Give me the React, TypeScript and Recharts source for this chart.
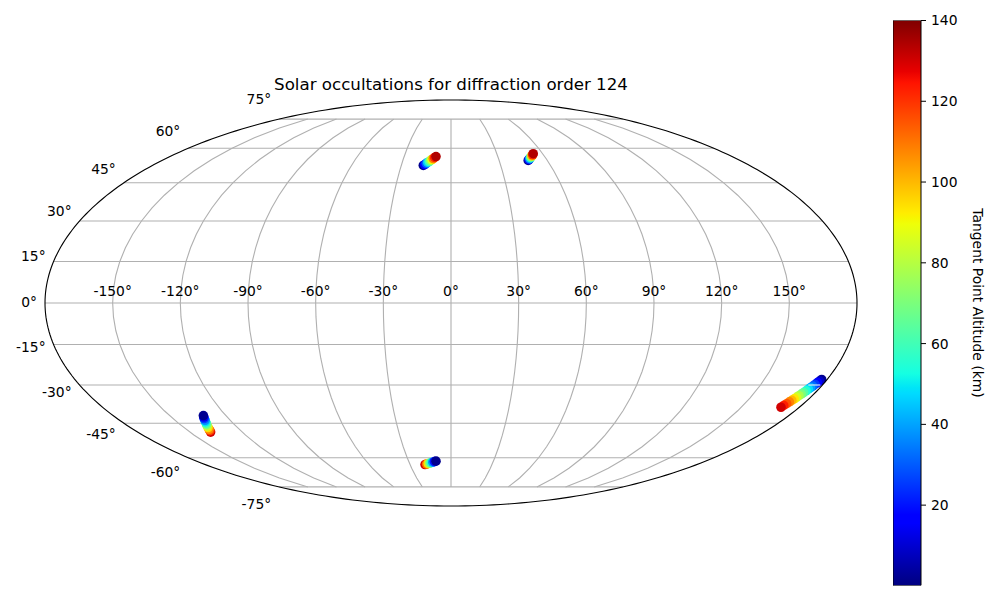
import React from 'react';
import { Bar, BarChart, Scatter, ScatterChart, XAxis, YAxis } from 'recharts';

const FONT = '"DejaVu Sans", sans-serif';

// grid ticks in degrees
const lonTicks = [-150, -120, -90, -60, -30, 0, 30, 60, 90, 120, 150];
const latTicks = [-75, -60, -45, -30, -15, 0, 15, 30, 45, 60, 75];
const meridianLats = [-75, -70, -65, -60, -55, -50, -45, -40, -35, -30, -25, -20, -15, -10, -5, 0, 5, 10, 15, 20, 25, 30, 35, 40, 45, 50, 55, 60, 65, 70, 75];

// occultation tracks
const trackALon = [-16.7, -15.9, -15.1, -14.3, -13.5, -12.7, -11.9, -11.2, -10.4, -9.6];
const trackALat = [52.3, 52.7, 53.2, 53.6, 54.0, 54.5, 54.9, 55.3, 55.8, 56.2];
const trackAAlt = [2, 16, 30, 45, 59, 73, 90, 108, 122, 134];

const trackBLon = [48.1, 48.9, 49.7, 50.5, 51.4, 52.2, 53.0, 53.8];
const trackBLat = [54.5, 54.9, 55.3, 55.7, 56.2, 56.6, 57.0, 57.5];
const trackBAlt = [2, 20, 39, 57, 78, 100, 120, 134];

const trackCLon = [177.4, 177.0, 176.6, 176.2, 175.8, 175.4, 175.0, 174.6, 174.2, 173.8, 173.4, 173.0, 172.6, 172.2, 171.8, 171.4, 170.9, 170.5];
const trackCLat = [-27.9, -28.5, -29.1, -29.8, -30.4, -31.0, -31.6, -32.2, -32.9, -33.5, -34.1, -34.7, -35.3, -35.9, -36.5, -37.2, -37.9, -38.6];
const trackCAlt = [2, 9, 17, 25, 32, 40, 48, 55, 63, 70, 78, 85, 93, 100, 108, 115, 123, 130];

const trackDLon = [-138.1, -137.5, -137.0, -136.4, -135.9, -135.3, -134.7, -134.2, -133.6, -133.1, -132.5, -131.9];
const trackDLat = [-48.7, -48.1, -47.5, -46.8, -46.2, -45.6, -45.0, -44.4, -43.8, -43.1, -42.5, -41.9];
const trackDAlt = [130, 118, 107, 95, 83, 71, 60, 49, 37, 26, 14, 2];

const trackELon = [-19.0, -17.8, -16.6, -15.4, -14.2, -13.0, -11.8, -10.6];
const trackELat = [-63.2, -63.0, -62.8, -62.5, -62.3, -62.1, -61.8, -61.6];
const trackEAlt = [130, 112, 94, 75, 57, 39, 20, 2];

// pale streak across the long track, along the -30 parallel
const streakLon = [173.2, 179];
const streakLat = -30;

const colorbarTicks = [20, 40, 60, 80, 100, 120, 140];

const R2 = Math.SQRT2;

// Mollweide projection
const project = (lon: number, lat: number) => {
  const phi = (lat * Math.PI) / 180;
  let theta = phi;
  for (let i = 0; i < 30; i++) {
    theta -= (2 * theta + Math.sin(2 * theta) - Math.PI * Math.sin(phi)) / (2 + 2 * Math.cos(2 * theta));
  }
  return { x: ((2 * R2) / Math.PI) * ((lon * Math.PI) / 180) * Math.cos(theta), y: R2 * Math.sin(theta) };
};

const buildTrack = (lons: number[], lats: number[], alts: number[]) =>
  lons.map((lon, i) => ({ ...project(lon, lats[i]), alt: alts[i] }));

const clamp = (v: number) => Math.max(0, Math.min(1, v));

// matplotlib jet, t in 0..1
const jet = (t: number) => {
  const r = t < 0.35 ? 0 : t < 0.66 ? (t - 0.35) / 0.31 : t < 0.89 ? 1 : 1 - ((t - 0.89) / 0.11) * 0.5;
  const g = t < 0.125 ? 0 : t < 0.375 ? (t - 0.125) / 0.25 : t < 0.64 ? 1 : t < 0.91 ? 1 - (t - 0.64) / 0.27 : 0;
  const b = t < 0.11 ? 0.5 + (t / 0.11) * 0.5 : t < 0.34 ? 1 : t < 0.65 ? 1 - (t - 0.34) / 0.31 : 0;
  const c = (v: number) => Math.round(clamp(v) * 255);
  return `rgb(${c(r)},${c(g)},${c(b)})`;
};

const ALT_MIN = 0.1;
const ALT_MAX = 140;
const altColor = (alt: number) => jet((alt - ALT_MIN) / (ALT_MAX - ALT_MIN));
const jetStops = [0, 0.11, 0.125, 0.2, 0.34, 0.35, 0.375, 0.5, 0.64, 0.65, 0.66, 0.75, 0.89, 0.91, 1];

const frame = Array.from({ length: 361 }, (_, i) => {
  const a = (i * Math.PI) / 180;
  return { x: 2 * R2 * Math.cos(a), y: R2 * Math.sin(a) };
});
const parallels = latTicks.map(lat => [project(-180, lat), project(180, lat)]);
const meridians = lonTicks.map(lon => meridianLats.map(lat => project(lon, lat)));
const streak = streakLon.map(lon => project(lon, streakLat));

const lonLabels = lonTicks.map(lon => ({ ...project(lon, 0), label: `${lon}°` }));
const latLabels = latTicks.map(lat => {
  const p = project(-180, lat);
  return { x: p.x, y: p.y * 1.1, label: `${lat}°` };
});

const tracks = [
  buildTrack(trackALon, trackALat, trackAAlt),
  buildTrack(trackBLon, trackBLat, trackBAlt),
  buildTrack(trackCLon, trackCLat, trackCAlt),
  buildTrack(trackDLon, trackDLat, trackDAlt),
  buildTrack(trackELon, trackELat, trackEAlt),
];

const noDot = () => <g />;

const AltDot = (props: any) => <circle cx={props.cx} cy={props.cy} r={4.8} fill={altColor(props.payload.alt)} />;

const LonLabel = (props: any) => (
  <text x={props.cx} y={props.cy - 12.5} textAnchor="middle" dominantBaseline="central" fontSize={13.89} fontFamily={FONT} fill="#000">
    {props.payload.label}
  </text>
);

const LatLabel = (props: any) => (
  <text x={props.cx - 8} y={props.cy - 1.5} textAnchor="end" dominantBaseline="central" fontSize={13.89} fontFamily={FONT} fill="#000">
    {props.payload.label}
  </text>
);

const gridLine = { stroke: '#b0b0b0', strokeWidth: 1.11 };

export default function App() {
  return (
    <div style={{ position: 'absolute', left: 0, top: 0, width: 1000, height: 600, background: '#fff' }}>
      <div style={{ position: 'absolute', left: 0, top: 0 }}>
        <ScatterChart width={1000} height={600} margin={{ left: 45, right: 143, top: 100, bottom: 94 }}>
          <XAxis type="number" dataKey="x" domain={[-2 * R2, 2 * R2]} hide />
          <YAxis type="number" dataKey="y" domain={[-R2, R2]} hide />
          {parallels.map((d, i) => (
            <Scatter key={`par-${i}`} data={d} line={gridLine} shape={noDot} isAnimationActive={false} />
          ))}
          {meridians.map((d, i) => (
            <Scatter key={`mer-${i}`} data={d} line={gridLine} shape={noDot} isAnimationActive={false} />
          ))}
          <Scatter data={lonLabels} shape={LonLabel} isAnimationActive={false} />
          <Scatter data={latLabels} shape={LatLabel} isAnimationActive={false} />
          {tracks.map((d, i) => (
            <Scatter key={`track-${i}`} data={d} shape={AltDot} isAnimationActive={false} />
          ))}
          <Scatter data={streak} line={{ stroke: '#e6eef5', strokeWidth: 1.11 }} shape={noDot} isAnimationActive={false} />
          <Scatter data={frame} line={{ stroke: '#000', strokeWidth: 1.11 }} shape={noDot} isAnimationActive={false} />
        </ScatterChart>
      </div>
      <div
        style={{
          position: 'absolute',
          left: 0,
          width: 902,
          top: 75,
          textAlign: 'center',
          fontFamily: FONT,
          fontSize: 16.67,
          lineHeight: '20px',
          color: '#000',
        }}
      >
        Solar occultations for diffraction order 124
      </div>
      <div style={{ position: 'absolute', left: 893, top: 0 }}>
        <BarChart
          width={107}
          height={600}
          data={[{ name: 'alt', band: [ALT_MIN, ALT_MAX] }]}
          margin={{ left: 0, right: 0, top: 20.5, bottom: 14.5 }}
          barCategoryGap={0}
        >
          <defs>
            <linearGradient id="jetBar" x1="0" y1="1" x2="0" y2="0">
              {jetStops.map(s => (
                <stop key={s} offset={s} stopColor={jet(s)} />
              ))}
            </linearGradient>
          </defs>
          <XAxis dataKey="name" hide />
          <YAxis
            orientation="right"
            type="number"
            domain={[ALT_MIN, ALT_MAX]}
            ticks={colorbarTicks}
            width={79}
            tickSize={5}
            tickMargin={5}
            tick={{ fontSize: 13.89, fontFamily: FONT, fill: '#000' }}
            stroke="#000"
            axisLine={false}
            tickLine={{ stroke: '#000' }}
            allowDataOverflow
          />
          <Bar dataKey="band" fill="url(#jetBar)" stroke="#000" strokeWidth={1} isAnimationActive={false} />
        </BarChart>
      </div>
      <div
        style={{
          position: 'absolute',
          left: 978,
          top: 303,
          transform: 'translate(-50%, -50%) rotate(90deg)',
          whiteSpace: 'nowrap',
          fontFamily: FONT,
          fontSize: 13.89,
          color: '#000',
        }}
      >
        Tangent Point Altitude (km)
      </div>
    </div>
  );
}
